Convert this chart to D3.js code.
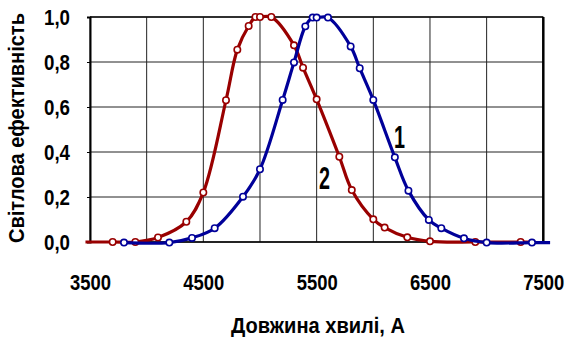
<!DOCTYPE html>
<html>
<head>
<meta charset="utf-8">
<script src="https://cdn.jsdelivr.net/npm/d3@7"></script>
<style>
  html, body { margin: 0; padding: 0; background: #fff; }
  svg { display: block; }
  text { font-family: 'Liberation Sans', Arial, sans-serif; font-weight: bold; fill: #000; }
</style>
</head>
<body>
<svg id="chart" width="567" height="337"></svg>
<script>
// ---- data ----
const xTicks = [3500, 4500, 5500, 6500, 7500];
const xGrid = [3500, 4000, 4500, 5000, 5500, 6000, 6500, 7000, 7500];
const yTicks = [0, 0.2, 0.4, 0.6, 0.8, 1.0];
const yTickLabels = ["0,0", "0,2", "0,4", "0,6", "0,8", "1,0"];

// curve 2 (red) – first and last entries are line ends without markers
const redWave  = [3460, 3700, 3900, 4100, 4350, 4500, 4700, 4800, 4900, 4960, 5000, 5100, 5300, 5380, 5500, 5700, 5810, 6000, 6100, 6300, 6500, 6900, 7300, 7430];
const redValue = [0,    0,    0,    0.02, 0.09, 0.22, 0.63, 0.855,0.96, 1.0,  1.0,  1.0,  0.874,0.775,0.634,0.379,0.231,0.101,0.064,0.021,0.003,0,    0,    0];
const redMarked= [false,true, true, true, true, true, true, true, true, true, true, true, true, true, true, true, true, true, true, true, true, true, true, false];

// curve 1 (blue) – last entry is a line end without marker
const blueWave  = [3800, 4200, 4400, 4600, 4850, 5000, 5200, 5300, 5400, 5465, 5500, 5600, 5800, 5880, 6000, 6190, 6310, 6490, 6600, 6800, 7000, 7400, 7560];
const blueValue = [0,    0,    0.021,0.064,0.204,0.326,0.634,0.801,0.961,1.0,  1.0,  1.0,  0.872,0.775,0.634,0.379,0.231,0.101,0.064,0.019,0,    0,    0];
const blueMarked= [true, true, true, true, true, true, true, true, true, true, true, true, true, true, true, true, true, true, true, true, true, true, false];

const curveLabels = [{text: "1", wave: 6230, value: 0.465}, {text: "2", wave: 5570, value: 0.285}];

const xTitle = "Довжина хвилі, А";
const yTitle = "Світлова ефективність";

// ---- layout ----
const svg = d3.select("#chart");
const pLeft = 90, pRight = 543.3, pTop = 17, pBottom = 242;
const x = d3.scaleLinear().domain([3500, 7500]).range([pLeft, pRight]);
const y = d3.scaleLinear().domain([0, 1]).range([pBottom, pTop]);

// condense a text horizontally (in its own frame) to a target width
function fitWidth(sel, target) {
  sel.each(function () {
    const t = d3.select(this);
    const w = this.getComputedTextLength();
    const sx = target / w;
    const x0 = +t.attr("x") || 0;
    t.attr("x", x0 / sx).attr("transform", `scale(${sx},1)`);
  });
}

// gridlines
svg.append("g").selectAll("line").data(xGrid).join("line")
  .attr("x1", d => x(d)).attr("x2", d => x(d))
  .attr("y1", pTop).attr("y2", pBottom)
  .attr("stroke", "#222").attr("stroke-width", 1);
svg.append("g").selectAll("line").data(yTicks).join("line")
  .attr("x1", pLeft).attr("x2", pRight)
  .attr("y1", d => y(d)).attr("y2", d => y(d))
  .attr("stroke", "#222").attr("stroke-width", 1);

// frame
svg.append("line").attr("x1", pLeft).attr("x2", pRight).attr("y1", pTop).attr("y2", pTop)
  .attr("stroke", "#111").attr("stroke-width", 1.5);
svg.append("line").attr("x1", pRight).attr("x2", pRight).attr("y1", pTop).attr("y2", pBottom)
  .attr("stroke", "#000").attr("stroke-width", 2.5);
svg.append("line").attr("x1", pLeft).attr("x2", pRight).attr("y1", pBottom).attr("y2", pBottom)
  .attr("stroke", "#000").attr("stroke-width", 1.5);

// y axis
const yAxis = d3.axisLeft(y).tickValues(yTicks).tickSize(3).tickPadding(17)
  .tickFormat((d, i) => yTickLabels[i]);
const gy = svg.append("g").attr("transform", `translate(${pLeft},0)`).call(yAxis);
gy.select(".domain").attr("stroke", "#000").attr("stroke-width", 2);
gy.selectAll(".tick line").attr("stroke", "#000");
gy.selectAll(".tick text").style("font-size", "22px").attr("dy", "0.36em").call(fitWidth, 26);

// x axis (labels only)
const xAxis = d3.axisBottom(x).tickValues(xTicks).tickSize(0).tickPadding(48)
  .tickFormat(d3.format("d"));
const gx = svg.append("g").attr("transform", `translate(0,${pBottom})`).call(xAxis);
gx.select(".domain").remove();
gx.selectAll(".tick text").style("font-size", "22px").attr("dy", "0").call(fitWidth, 41);

// lines
const line = d3.line().curve(d3.curveCatmullRom.alpha(0.5))
  .x(d => x(d.w)).y(d => y(d.v));
const redData = redWave.map((w, i) => ({w, v: redValue[i], m: redMarked[i]}));
const blueData = blueWave.map((w, i) => ({w, v: blueValue[i], m: blueMarked[i]}));

function drawSeries(data, color, dy) {
  const g = svg.append("g").attr("transform", `translate(0,${dy})`);
  g.append("path").datum(data).attr("d", line)
    .attr("fill", "none").attr("stroke", color).attr("stroke-width", 3.2)
    .attr("stroke-linejoin", "round");
  g.selectAll("circle").data(data.filter(d => d.m)).join("circle")
    .attr("cx", d => x(d.w)).attr("cy", d => y(d.v)).attr("r", 3.2)
    .attr("fill", "#fff").attr("stroke", color).attr("stroke-width", 1.6);
}
drawSeries(redData, "#990000", 0);
drawSeries(blueData, "#000099", 0.6);

// curve labels
svg.append("g").selectAll("g").data(curveLabels).join("g")
  .attr("transform", d => `translate(${x(d.wave)},${y(d.value)})`)
  .append("text")
  .attr("text-anchor", "middle").attr("dominant-baseline", "central")
  .style("font-size", "31px")
  .text(d => d.text)
  .call(fitWidth, 11);

// titles
svg.append("g").attr("transform", "translate(318,333)")
  .append("text").attr("text-anchor", "middle")
  .style("font-size", "22px")
  .text(xTitle).call(fitWidth, 174);
svg.append("g").attr("transform", "translate(16,128) rotate(-90)")
  .append("text")
  .attr("text-anchor", "middle").attr("dominant-baseline", "central")
  .style("font-size", "22px")
  .text(yTitle).call(fitWidth, 230);
</script>
</body>
</html>
